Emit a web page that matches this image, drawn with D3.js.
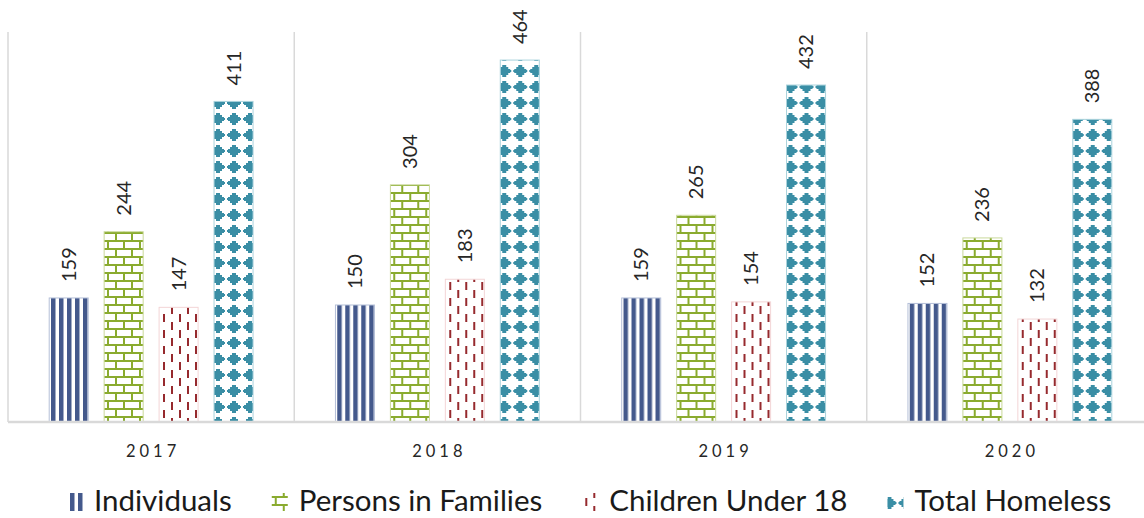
<!DOCTYPE html>
<html>
<head>
<meta charset="utf-8">
<script src="https://cdn.jsdelivr.net/npm/d3@7/dist/d3.min.js"></script>
<style>
  html, body { margin: 0; padding: 0; background: #fff; }
  svg { display: block; font-family: Lato, "Open Sans", sans-serif; }
</style>
</head>
<body>
<svg id="chart" width="1144" height="518"></svg>
<script>
// Homeless counts by year
const years = ["2017", "2018", "2019", "2020"];
const seriesNames = ["Individuals", "Persons in Families", "Children Under 18", "Total Homeless"];
const individuals = [159, 150, 159, 152];
const personsInFamilies = [244, 304, 265, 236];
const childrenUnder18 = [147, 183, 154, 132];
const totalHomeless = [411, 464, 432, 388];
const seriesValues = [individuals, personsInFamilies, childrenUnder18, totalHomeless];
const patternIds = ["pat-ind", "pat-fam", "pat-child", "pat-total"];
const edgeColors = ["#b4bfd8", "#c9d89a", "#f3d5d6", "#a9d2dc"];

const svg = d3.select("#chart");
const W = 1144, H = 518;
const plot = { left: 8, right: 1153, top: 32, bottom: 422 };

// ---- fill patterns ----
const defs = svg.append("defs");

// vertical stripes
const pInd = defs.append("pattern").attr("id", "pat-ind")
  .attr("patternUnits", "userSpaceOnUse").attr("width", 8).attr("height", 8).attr("x", 3);
pInd.append("rect").attr("x", 0).attr("y", 0).attr("width", 4.5).attr("height", 8).attr("fill", "#44598c");

// horizontal brick
const pFam = defs.append("pattern").attr("id", "pat-fam")
  .attr("patternUnits", "userSpaceOnUse").attr("width", 16).attr("height", 16).attr("x", 3);
const brick = "#8aab2f";
pFam.append("rect").attr("x", 0).attr("y", 0).attr("width", 16).attr("height", 2).attr("fill", brick);
pFam.append("rect").attr("x", 0).attr("y", 8).attr("width", 16).attr("height", 2).attr("fill", brick);
pFam.append("rect").attr("x", 0).attr("y", 0).attr("width", 2).attr("height", 8).attr("fill", brick);
pFam.append("rect").attr("x", 8).attr("y", 8).attr("width", 2).attr("height", 8).attr("fill", brick);

// dashed vertical
const pChild = defs.append("pattern").attr("id", "pat-child")
  .attr("patternUnits", "userSpaceOnUse").attr("width", 16).attr("height", 16).attr("x", 3).attr("y", 2);
const dash = "#962a2e";
pChild.append("rect").attr("x", 0).attr("y", 0).attr("width", 2).attr("height", 8).attr("fill", dash);
pChild.append("rect").attr("x", 8).attr("y", 8).attr("width", 2).attr("height", 8).attr("fill", dash);

// solid diamonds
const pTot = defs.append("pattern").attr("id", "pat-total")
  .attr("patternUnits", "userSpaceOnUse").attr("width", 16).attr("height", 16).attr("x", -6).attr("y", -1);
const teal = "#3a8ea5";
[[6, 2, 4, 2], [4, 4, 8, 2], [2, 6, 12, 4], [1, 7, 14, 2], [4, 10, 8, 2], [6, 12, 4, 2]]
  .forEach(([x, y, w, h]) => pTot.append("rect").attr("x", x).attr("y", y)
    .attr("width", w).attr("height", h).attr("fill", teal));

// ---- scales ----
const x0 = d3.scaleBand().domain(years).range([plot.left, plot.right]).padding(0);
const x1 = d3.scaleBand().domain(seriesNames).range([0, x0.bandwidth()])
  .paddingInner(0.29).paddingOuter(0.75);
const y = d3.scaleLinear().domain([0, 500]).range([plot.bottom, plot.top]);

// ---- group dividers ----
svg.append("g").selectAll("line").data(years).join("line")
  .attr("x1", d => x0(d)).attr("x2", d => x0(d))
  .attr("y1", plot.top).attr("y2", plot.bottom)
  .attr("stroke", "#d9d9d9").attr("stroke-width", 1.5);

// ---- bars ----
const groups = svg.append("g").selectAll("g").data(years).join("g")
  .attr("transform", d => `translate(${x0(d)},0)`);

const barData = (yr, i) => seriesNames.map((s, k) => ({ series: s, k, value: seriesValues[k][i] }));

groups.selectAll("rect").data((yr, i) => barData(yr, i)).join("rect")
  .attr("x", d => x1(d.series))
  .attr("y", d => y(d.value))
  .attr("width", x1.bandwidth())
  .attr("height", d => y(0) - y(d.value))
  .attr("fill", d => `url(#${patternIds[d.k]})`)
  .attr("stroke", d => edgeColors[d.k])
  .attr("stroke-width", 1);

// ---- value labels ----
groups.selectAll("text").data((yr, i) => barData(yr, i)).join("text")
  .attr("transform", d => `translate(${x1(d.series) + x1.bandwidth() / 2},${y(d.value) - 16}) rotate(-90)`)
  .attr("dy", "0.35em")
  .attr("text-anchor", "start")
  .attr("font-size", 20)
  .attr("fill", "#262626")
  .text(d => d.value);

// ---- baseline ----
svg.append("line")
  .attr("x1", plot.left).attr("x2", W)
  .attr("y1", y(0)).attr("y2", y(0))
  .attr("stroke", "#d9d9d9").attr("stroke-width", 2.5);

// ---- x axis ----
const xAxis = svg.append("g")
  .attr("transform", `translate(0,${y(0)})`)
  .call(d3.axisBottom(x0).tickSize(0).tickPadding(23));
xAxis.select(".domain").remove();
xAxis.selectAll("text")
  .attr("font-family", "Lato, sans-serif")
  .attr("font-size", 16.5)
  .attr("fill", "#262626")
  .attr("letter-spacing", "4px")
  .attr("dx", "2px");

// ---- legend (laid out left to right) ----
const legend = svg.append("g").attr("transform", "translate(67,0)");
let cursor = 0;
seriesNames.forEach((name, i) => {
  const item = legend.append("g").attr("transform", `translate(${cursor},0)`);
  item.append("rect")
    .attr("y", 493)
    .attr("width", 16).attr("height", 18)
    .attr("fill", `url(#${patternIds[i]})`);
  const t = item.append("text")
    .attr("x", 27).attr("y", 511)
    .attr("font-size", 29.5)
    .attr("fill", "#1a1a1a")
    .text(name);
  cursor += 27 + t.node().getComputedTextLength() + 40;
});
</script>
</body>
</html>
